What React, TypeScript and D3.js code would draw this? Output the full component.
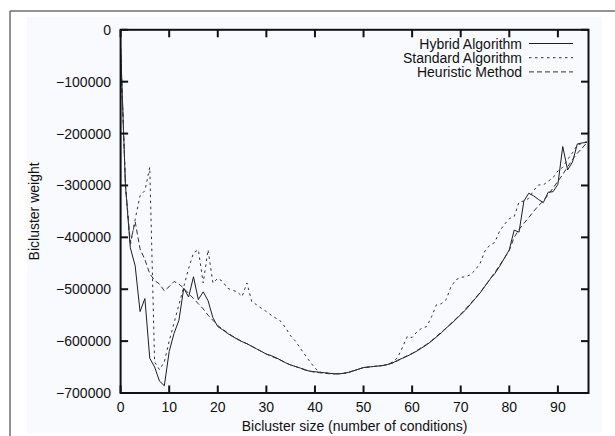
import React from 'react';
import * as d3 from 'd3';

// Bicluster size (number of conditions): 0..96
const hybrid = [
  -35000, -300000, -420000, -455000, -543000, -518000, -633000, -650000, -677000, -686000,
  -620000, -585000, -560000, -498000, -515000, -476000, -520000, -505000, -522000, -555000,
  -572000, -578000, -585000, -591000, -596000, -601000, -605000, -610000, -615000, -620000,
  -625000, -628000, -632000, -637000, -642000, -646000, -649000, -652000, -656000, -658000,
  -659000, -660000, -661000, -662000, -663000, -663000, -662000, -660000, -657000, -654000,
  -651000, -650000, -649000, -648000, -647000, -645000, -642000, -637000, -633000, -629000,
  -624000, -619000, -613000, -607000, -600000, -592000, -584000, -575000, -567000, -558000,
  -549000, -540000, -529000, -518000, -507000, -494000, -481000, -470000, -456000, -440000,
  -424000, -386000, -390000, -330000, -315000, -320000, -327000, -333000, -313000, -312000,
  -298000, -225000, -270000, -255000, -220000, -218000, -217000,
];

const standard = [
  -35000, -300000, -415000, -365000, -320000, -310000, -265000, -640000, -655000, -640000,
  -600000, -565000, -530000, -495000, -460000, -430000, -424000, -488000, -424000, -488000,
  -479000, -485000, -498000, -502000, -505000, -514000, -488000, -524000, -530000, -537000,
  -543000, -550000, -556000, -562000, -575000, -590000, -600000, -614000, -627000, -640000,
  -652000, -660000, -661000, -662000, -663000, -663000, -662000, -660000, -657000, -654000,
  -651000, -650000, -649000, -648000, -647000, -645000, -640000, -632000, -612000, -591000,
  -593000, -582000, -575000, -572000, -553000, -530000, -528000, -520000, -495000, -482000,
  -477000, -476000, -472000, -463000, -450000, -426000, -415000, -410000, -388000, -375000,
  -364000, -360000, -332000, -330000, -325000, -310000, -299000, -299000, -292000, -285000,
  -272000, -265000, -250000, -237000, -222000, -219000, -215000,
];

const heuristic = [
  -35000, -300000, -410000, -370000, -422000, -443000, -470000, -483000, -490000, -503000,
  -495000, -485000, -490000, -498000, -508000, -518000, -528000, -538000, -550000, -560000,
  -570000, -577000, -584000, -590000, -596000, -601000, -605000, -610000, -615000, -620000,
  -625000, -629000, -633000, -637000, -642000, -646000, -649000, -652000, -655000, -658000,
  -660000, -661000, -662000, -663000, -663000, -663000, -662000, -660000, -657000, -654000,
  -651000, -650000, -649000, -648000, -647000, -645000, -642000, -638000, -633000, -628000,
  -624000, -618000, -612000, -606000, -599000, -591000, -583000, -575000, -566000, -557000,
  -548000, -538000, -528000, -517000, -506000, -494000, -481000, -468000, -454000, -440000,
  -425000, -400000, -385000, -373000, -362000, -350000, -339000, -330000, -318000, -305000,
  -292000, -279000, -264000, -250000, -238000, -228000, -217000,
];

const xTicks = [0, 10, 20, 30, 40, 50, 60, 70, 80, 90];
const yTicks = [0, -100000, -200000, -300000, -400000, -500000, -600000, -700000];

const seriesNames = ['Hybrid Algorithm', 'Standard Algorithm', 'Heuristic Method'];

const W = 615;
const H = 436;
const left = 120.6;
const right = 588.5;
const top = 29.8;
const bottom = 393;

export default function App() {
  const x = d3.scaleLinear().domain([0, 96.3]).range([left, right]);
  const y = d3.scaleLinear().domain([-700000, 0]).range([bottom, top]);
  const line = d3
    .line<number>()
    .x((_, i) => x(i))
    .y((d) => y(d));

  const series = [
    { name: seriesNames[0], values: hybrid, dash: undefined as string | undefined, color: '#1e1e1e' },
    { name: seriesNames[1], values: standard, dash: '2.5,3.5', color: '#333' },
    { name: seriesNames[2], values: heuristic, dash: '5,3', color: '#333' },
  ];

  const font = 'Liberation Sans, Arial, Helvetica, sans-serif';
  const tick = 7.5;

  return (
    <svg
      width={W}
      height={H}
      style={{ position: 'absolute', left: 0, top: 0, background: '#fff' }}
      fontFamily={font}
    >
      <rect x={0} y={0} width={W} height={H} fill="#fff" />
      <line x1={10} y1={11} x2={W} y2={11} stroke="#6e6e6e" strokeWidth={1.5} />
      <line x1={10} y1={11} x2={10} y2={H} stroke="#6e6e6e" strokeWidth={1.5} />
      <rect x={27} y={17} width={575} height={416} fill="#f9fafd" />

      {/* data lines */}
      {series.map((s) => (
        <path
          key={s.name}
          d={line(s.values) || ''}
          fill="none"
          stroke={s.color}
          strokeWidth={1}
          strokeDasharray={s.dash}
        />
      ))}

      {/* frame */}
      <rect
        x={left}
        y={top}
        width={right - left}
        height={bottom - top}
        fill="none"
        stroke="#111"
        strokeWidth={2}
      />

      {/* x ticks */}
      {xTicks.map((t) => (
        <g key={'x' + t}>
          <line x1={x(t)} x2={x(t)} y1={bottom} y2={bottom - tick} stroke="#111" strokeWidth={2} />
          <line x1={x(t)} x2={x(t)} y1={top} y2={top + tick} stroke="#111" strokeWidth={2} />
          <text x={x(t)} y={412} textAnchor="middle" fontSize={14} fill="#111">
            {t}
          </text>
        </g>
      ))}

      {/* y ticks */}
      {yTicks.map((t) => (
        <g key={'y' + t}>
          <line x1={left} x2={left + tick} y1={y(t)} y2={y(t)} stroke="#111" strokeWidth={2} />
          <line x1={right} x2={right - tick} y1={y(t)} y2={y(t)} stroke="#111" strokeWidth={2} />
          <text x={111} y={y(t) + 5} textAnchor="end" fontSize={14} fill="#111">
            {t === 0 ? '0' : '\u2212' + String(Math.abs(t))}
          </text>
        </g>
      ))}

      {/* axis labels */}
      <text x={(left + right) / 2} y={431} textAnchor="middle" fontSize={14} fill="#111">
        Bicluster size (number of conditions)
      </text>
      <text
        transform={`translate(39, ${(top + bottom) / 2}) rotate(-90)`}
        textAnchor="middle"
        fontSize={14}
        fill="#111"
      >
        Bicluster weight
      </text>

      {/* legend */}
      {series.map((s, i) => {
        const ly = 43.5 + i * 14.2;
        return (
          <g key={'leg' + i}>
            <text x={522} y={ly + 5} textAnchor="end" fontSize={14} fill="#111">
              {s.name}
            </text>
            <line
              x1={529}
              x2={573}
              y1={ly}
              y2={ly}
              stroke={s.color}
              strokeWidth={1}
              strokeDasharray={s.dash}
            />
          </g>
        );
      })}
    </svg>
  );
}
